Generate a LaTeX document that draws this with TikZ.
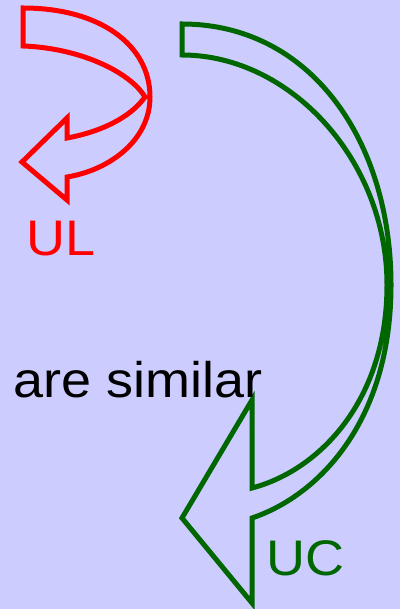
\documentclass[tikz,border=0pt]{standalone}
\usepackage{fontspec}
\setmainfont{Liberation Sans}
\definecolor{bgc}{RGB}{204,204,255}
\definecolor{redc}{RGB}{255,0,0}
\definecolor{greenc}{RGB}{0,102,0}
\begin{document}
\begin{tikzpicture}[x=1pt,y=-1pt,
  arrowshape/.style={line width=5pt, line join=miter},
  lbl/.style={inner sep=0pt, anchor=base west, font=\fontsize{50}{58}\selectfont, xscale=1.08}]
\fill[bgc] (0,0) rectangle (400,609);
\useasboundingbox (0,0) rectangle (400,609);
% red curved arrow
\draw[arrowshape, draw=redc]
  (23,8) .. controls (100,8) and (150,45) .. (150,97)
  .. controls (150,140) and (110,170) .. (67,177)
  -- (67,200) -- (22,162) -- (67,118) -- (67,138)
  .. controls (100,132) and (130,118) .. (145,97)
  .. controls (130,72) and (80,48) .. (23,46) -- cycle;
% green curved arrow
\draw[arrowshape, draw=greenc]
  (182,24) .. controls (310,24) and (391,140) .. (391,285)
  .. controls (391,420) and (320,495) .. (252,518)
  -- (252,603) -- (182,518) -- (252,400) -- (252,488)
  .. controls (320,470) and (387,400) .. (387,285)
  .. controls (387,160) and (290,55) .. (182,55) -- cycle;
\node[lbl, text=redc] (ul) at (26,255) {UL};
\node[lbl, text=greenc] (uc) at (266,575) {UC};
\node[lbl, text=black] (sim) at (13,397) {are similar};
\end{tikzpicture}
\end{document}
